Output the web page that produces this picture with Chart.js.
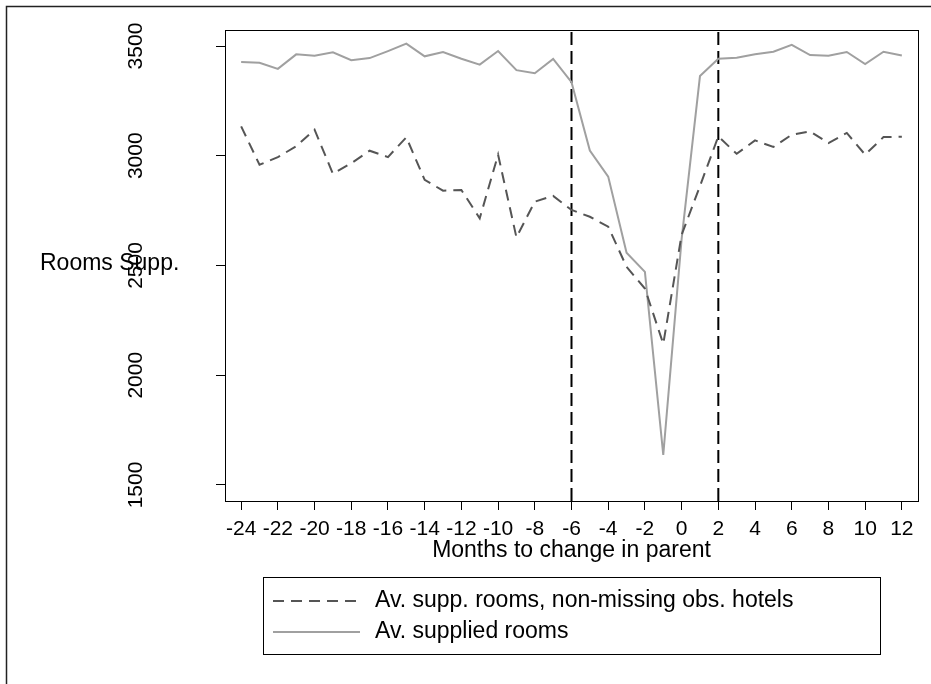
<!DOCTYPE html>
<html>
<head>
<meta charset="utf-8">
<title>Rooms supplied around change in parent</title>
<script src="https://cdn.jsdelivr.net/npm/chart.js@4.4.1/dist/chart.umd.min.js"></script>
<style>
    html, body { margin: 0; padding: 0; background: #fff; }
    #wrap { width: 931px; height: 684px; }
</style>
</head>
<body>
<div id="wrap"><canvas id="roomsChart" width="931" height="684"></canvas></div>
<script>
// months relative to the change in parent
const months = [-24, -23, -22, -21, -20, -19, -18, -17, -16, -15, -14, -13, -12,
    -11, -10, -9, -8, -7, -6, -5, -4, -3, -2, -1, 0, 1, 2, 3, 4, 5, 6, 7, 8, 9, 10, 11, 12];

const suppNonMissing = [3134, 2959, 2994, 3043, 3119, 2918, 2966, 3023, 2994, 3084, 2890, 2841, 2844,
    2715, 3005, 2628, 2791, 2817, 2753, 2722, 2677, 2494, 2395, 2143, 2640, 2862, 3088,
    3009, 3070, 3040, 3096, 3111, 3058, 3104, 3005, 3085, 3087];

const suppliedRooms = [3427, 3424, 3396, 3462, 3456, 3471, 3435, 3445, 3477, 3511, 3453, 3473, 3442,
    3415, 3477, 3390, 3376, 3441, 3335, 3024, 2905, 2558, 2471, 1637, 2620, 3363, 3442,
    3447, 3462, 3474, 3505, 3459, 3456, 3473, 3418, 3474, 3457];

const seriesNames = ["Av. supp. rooms, non-missing obs. hotels", "Av. supplied rooms"];
const xTicks = [-24, -22, -20, -18, -16, -14, -12, -10, -8, -6, -4, -2, 0, 2, 4, 6, 8, 10, 12];
const yTicks = [1500, 2000, 2500, 3000, 3500];
const eventMonths = [-6, 2];

const xMin = -24.88, xMax = 12.88;
const yMin = 1427, yMax = 3573;

const FONT = "'Liberation Sans', Arial, Helvetica, sans-serif";

function toPoints(values) {
    return values.map((v, i) => ({ x: months[i], y: v }));
}

function eventLine(m) {
    return {
        label: "event " + m,
        data: [{ x: m, y: yMin }, { x: m, y: yMax }],
        borderColor: "#000",
        borderWidth: 2,
        borderDash: [13, 6],
        pointRadius: 0,
        fill: false
    };
}

// frame, plot box, horizontal y title and the boxed legend
const decorPlugin = {
    id: "decor",
    beforeDraw(chart) {
        const ctx = chart.ctx;
        ctx.save();
        ctx.fillStyle = "#fff";
        ctx.fillRect(0, 0, chart.width, chart.height);
        ctx.restore();
    },
    afterDraw(chart) {
        const ctx = chart.ctx;
        const a = chart.chartArea;
        ctx.save();

        ctx.strokeStyle = "#222";
        ctx.lineWidth = 1.5;
        ctx.beginPath();
        ctx.moveTo(6.5, chart.height);
        ctx.lineTo(6.5, 6.5);
        ctx.lineTo(chart.width, 6.5);
        ctx.stroke();

        ctx.strokeStyle = "#000";
        ctx.lineWidth = 1;
        ctx.strokeRect(Math.round(a.left) + 0.5, Math.round(a.top) + 0.5,
            Math.round(a.right - a.left), Math.round(a.bottom - a.top));

        ctx.fillStyle = "#000";
        ctx.font = "23px " + FONT;
        ctx.textAlign = "left";
        ctx.textBaseline = "middle";
        ctx.fillText("Rooms Supp.", 40, (a.top + a.bottom) / 2 - 2);

        // legend
        const boxW = 617, boxH = 77;
        const boxX = Math.round((a.left + a.right) / 2 - boxW / 2);
        const boxY = 577;
        ctx.strokeRect(boxX + 0.5, boxY + 0.5, boxW, boxH);

        const rows = [boxY + 24, boxY + 55];
        [0, 1].forEach((i) => {
            const ds = chart.data.datasets[i];
            ctx.beginPath();
            ctx.strokeStyle = ds.borderColor;
            ctx.lineWidth = ds.borderWidth;
            ctx.setLineDash(ds.borderDash || []);
            ctx.moveTo(boxX + 10, rows[i]);
            ctx.lineTo(boxX + 97, rows[i]);
            ctx.stroke();
            ctx.setLineDash([]);
            ctx.fillStyle = "#000";
            ctx.fillText(ds.label, boxX + 112, rows[i]);
        });
        ctx.restore();
    }
};

function renderRoomsChart() {
    const ctx = document.getElementById("roomsChart").getContext("2d");

    new Chart(ctx, {
        type: "line",
        data: {
            datasets: [
                {
                    label: seriesNames[0],
                    data: toPoints(suppNonMissing),
                    borderColor: "#555555",
                    borderWidth: 2,
                    borderDash: [11, 7],
                    pointRadius: 0,
                    tension: 0,
                    fill: false
                },
                {
                    label: seriesNames[1],
                    data: toPoints(suppliedRooms),
                    borderColor: "#a0a0a0",
                    borderWidth: 2,
                    pointRadius: 0,
                    tension: 0,
                    fill: false
                },
                eventLine(eventMonths[0]),
                eventLine(eventMonths[1])
            ]
        },
        options: {
            responsive: false,
            animation: false,
            devicePixelRatio: 1,
            layout: {
                padding: { left: 0, right: 13, top: 30, bottom: 113 }
            },
            plugins: {
                legend: { display: false },
                tooltip: { enabled: false }
            },
            scales: {
                x: {
                    type: "linear",
                    min: xMin,
                    max: xMax,
                    afterBuildTicks: (scale) => {
                        scale.ticks = xTicks.map((v) => ({ value: v }));
                    },
                    afterFit: (scale) => {
                        scale.height = 70;
                        scale.paddingLeft = 0;
                        scale.paddingRight = 0;
                    },
                    grid: {
                        drawOnChartArea: false,
                        drawTicks: true,
                        tickLength: 9,
                        color: "#000",
                        lineWidth: 1
                    },
                    border: { display: true, color: "#000", width: 1 },
                    ticks: {
                        autoSkip: false,
                        maxRotation: 0,
                        minRotation: 0,
                        padding: 7,
                        color: "#000",
                        font: { family: FONT, size: 21 },
                        callback: (v) => String(v)
                    },
                    title: {
                        display: true,
                        text: "Months to change in parent",
                        color: "#000",
                        font: { family: FONT, size: 23, lineHeight: 1.2 },
                        padding: { top: 0, bottom: 7 }
                    }
                },
                y: {
                    type: "linear",
                    min: yMin,
                    max: yMax,
                    afterBuildTicks: (scale) => {
                        scale.ticks = yTicks.map((v) => ({ value: v }));
                    },
                    afterFit: (scale) => {
                        scale.width = 225;
                        scale.paddingTop = 0;
                        scale.paddingBottom = 0;
                    },
                    grid: {
                        drawOnChartArea: false,
                        drawTicks: true,
                        tickLength: 9,
                        color: "#000",
                        lineWidth: 1
                    },
                    border: { display: true, color: "#000", width: 1 },
                    ticks: {
                        minRotation: 90,
                        maxRotation: 90,
                        crossAlign: "center",
                        padding: 56,
                        color: "#000",
                        font: { family: FONT, size: 21 },
                        callback: (v) => String(v)
                    }
                }
            }
        },
        plugins: [decorPlugin]
    });
}

document.addEventListener("DOMContentLoaded", () => {
    renderRoomsChart();
});
</script>
</body>
</html>
